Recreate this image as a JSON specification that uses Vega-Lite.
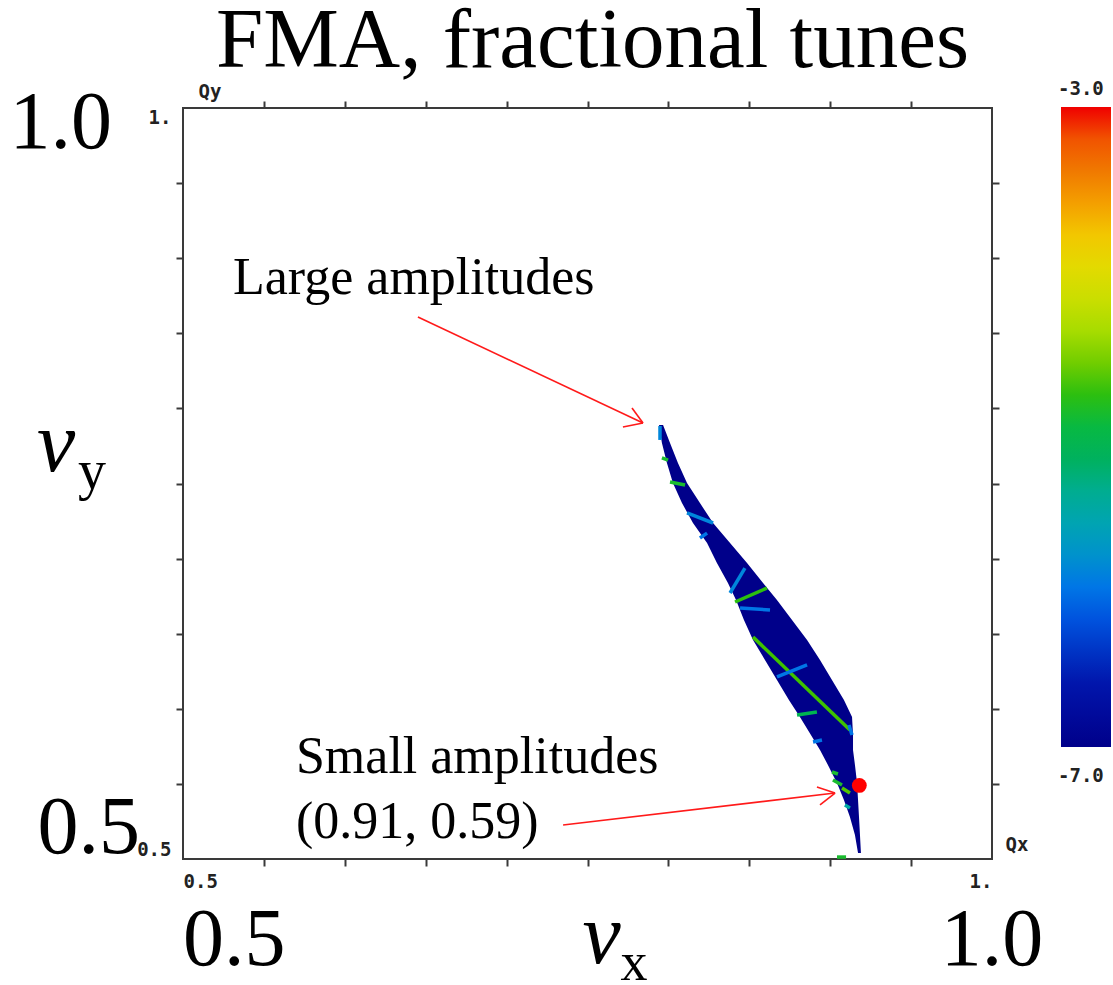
{
  "$schema": "https://vega.github.io/schema/vega-lite/v6.json",
  "width": 809,
  "height": 751,
  "autosize": {"type": "none"},
  "padding": {"left": 183, "top": 108, "right": 121, "bottom": 126},
  "background": "white",
  "config": {
    "view": {"stroke": "#3a3a3a", "strokeWidth": 2},
    "axis": {
      "grid": false,
      "domain": false,
      "tickColor": "#3a3a3a",
      "tickWidth": 2,
      "tickSize": 7,
      "labelFont": "DejaVu Sans Mono",
      "labelFontWeight": "bold",
      "labelFontSize": 19,
      "labelColor": "#222222",
      "titleFont": "DejaVu Sans Mono",
      "titleFontWeight": "bold",
      "titleFontSize": 19,
      "titleColor": "#222222"
    }
  },
  "datasets": {
    "footprint": [
      {"qy": 0.7890, "qxl": 0.7942, "qxr": 0.7967, "d": -7},
      {"qy": 0.7770, "qxl": 0.7960, "qxr": 0.8010, "d": -7},
      {"qy": 0.7637, "qxl": 0.7991, "qxr": 0.8059, "d": -7},
      {"qy": 0.7503, "qxl": 0.8028, "qxr": 0.8115, "d": -7},
      {"qy": 0.7370, "qxl": 0.8084, "qxr": 0.8195, "d": -7},
      {"qy": 0.7237, "qxl": 0.8152, "qxr": 0.8276, "d": -7},
      {"qy": 0.7104, "qxl": 0.8239, "qxr": 0.8381, "d": -7},
      {"qy": 0.6971, "qxl": 0.8300, "qxr": 0.8486, "d": -7},
      {"qy": 0.6838, "qxl": 0.8368, "qxr": 0.8585, "d": -7},
      {"qy": 0.6724, "qxl": 0.8418, "qxr": 0.8671, "d": -7},
      {"qy": 0.6591, "qxl": 0.8467, "qxr": 0.8764, "d": -7},
      {"qy": 0.6458, "qxl": 0.8523, "qxr": 0.8857, "d": -7},
      {"qy": 0.6325, "qxl": 0.8597, "qxr": 0.8937, "d": -7},
      {"qy": 0.6192, "qxl": 0.8671, "qxr": 0.9011, "d": -7},
      {"qy": 0.6059, "qxl": 0.8745, "qxr": 0.9085, "d": -7},
      {"qy": 0.5945, "qxl": 0.8813, "qxr": 0.9135, "d": -7},
      {"qy": 0.5826, "qxl": 0.8881, "qxr": 0.9141, "d": -7},
      {"qy": 0.5726, "qxl": 0.8937, "qxr": 0.9141, "d": -7},
      {"qy": 0.5626, "qxl": 0.8986, "qxr": 0.9153, "d": -7},
      {"qy": 0.5506, "qxl": 0.9042, "qxr": 0.9166, "d": -7},
      {"qy": 0.5393, "qxl": 0.9085, "qxr": 0.9172, "d": -7},
      {"qy": 0.5280, "qxl": 0.9122, "qxr": 0.9178, "d": -7},
      {"qy": 0.5160, "qxl": 0.9153, "qxr": 0.9184, "d": -7},
      {"qy": 0.5040, "qxl": 0.9172, "qxr": 0.9190, "d": -7}
    ],
    "resonances": [
      {"x1": 0.8523, "y1": 0.6478, "x2": 0.9122, "y2": 0.5859, "d": -4.75},
      {"x1": 0.8412, "y1": 0.6711, "x2": 0.8609, "y2": 0.6804, "d": -4.8},
      {"x1": 0.8381, "y1": 0.6771, "x2": 0.8473, "y2": 0.6937, "d": -5.9},
      {"x1": 0.8443, "y1": 0.6671, "x2": 0.8628, "y2": 0.6658, "d": -6.0},
      {"x1": 0.8010, "y1": 0.7510, "x2": 0.8103, "y2": 0.7490, "d": -4.9},
      {"x1": 0.7960, "y1": 0.7670, "x2": 0.7998, "y2": 0.7656, "d": -4.9},
      {"x1": 0.8115, "y1": 0.7304, "x2": 0.8276, "y2": 0.7237, "d": -5.9},
      {"x1": 0.8195, "y1": 0.7137, "x2": 0.8239, "y2": 0.7170, "d": -6.0},
      {"x1": 0.8671, "y1": 0.6212, "x2": 0.8857, "y2": 0.6292, "d": -6.0},
      {"x1": 0.8795, "y1": 0.5959, "x2": 0.8918, "y2": 0.5979, "d": -5.1},
      {"x1": 0.8894, "y1": 0.5779, "x2": 0.8949, "y2": 0.5792, "d": -6.0},
      {"x1": 0.9017, "y1": 0.5526, "x2": 0.9073, "y2": 0.5493, "d": -4.9},
      {"x1": 0.9073, "y1": 0.5473, "x2": 0.9122, "y2": 0.5439, "d": -4.7},
      {"x1": 0.9042, "y1": 0.5013, "x2": 0.9098, "y2": 0.5013, "d": -4.9},
      {"x1": 0.7948, "y1": 0.7883, "x2": 0.7948, "y2": 0.7790, "d": -5.9},
      {"x1": 0.9116, "y1": 0.5892, "x2": 0.9135, "y2": 0.5826, "d": -6.0},
      {"x1": 0.9011, "y1": 0.5579, "x2": 0.9048, "y2": 0.5566, "d": -4.9},
      {"x1": 0.9091, "y1": 0.5360, "x2": 0.9122, "y2": 0.5340, "d": -5.5}
    ],
    "dot": [{"qx": 0.918, "qy": 0.549}],
    "arrows": [
      {"x1": 0.6452, "y1": 0.8609, "x2": 0.7843, "y2": 0.7903},
      {"x1": 0.7775, "y1": 0.8003, "x2": 0.7843, "y2": 0.7903},
      {"x1": 0.7719, "y1": 0.7876, "x2": 0.7843, "y2": 0.7903},
      {"x1": 0.7349, "y1": 0.5226, "x2": 0.9030, "y2": 0.5439},
      {"x1": 0.8918, "y1": 0.5479, "x2": 0.9030, "y2": 0.5439},
      {"x1": 0.8937, "y1": 0.5360, "x2": 0.9030, "y2": 0.5439}
    ],
    "notes": [
      {"x": 0.5309, "y": 0.8762, "text": "Large amplitudes"},
      {"x": 0.5698, "y": 0.5573, "text": "Small amplitudes"},
      {"x": 0.5698, "y": 0.5140, "text": "(0.91, 0.59)"}
    ],
    "one": [{}]
  },
  "resolve": {"axis": {"x": "independent", "y": "independent"}},
  "layer": [
    {
      "data": {"name": "footprint"},
      "mark": {"type": "area", "orient": "horizontal", "interpolate": "linear"},
      "encoding": {
        "y": {
          "field": "qy", "type": "quantitative",
          "scale": {"domain": [0.5, 1.0], "nice": false, "zero": false},
          "axis": {
            "orient": "left",
            "values": [0.5, 0.55, 0.6, 0.65, 0.7, 0.75, 0.8, 0.85, 0.9, 0.95, 1.0],
            "labelExpr": "datum.value == 0.5 ? '0.5' : (datum.value == 1 ? '1.' : '')",
            "labelFlush": true,
            "labelPadding": 5,
            "tickOpacity": {"condition": {"test": "datum.value == 0.5 || datum.value == 1", "value": 0}, "value": 1},
            "title": "Qy",
            "titleAngle": 0,
            "titleX": 15,
            "titleY": -11,
            "titleAlign": "left",
            "titleBaseline": "alphabetic"
          }
        },
        "x": {
          "field": "qxl", "type": "quantitative",
          "scale": {"domain": [0.5, 1.0], "nice": false, "zero": false},
          "axis": {
            "orient": "bottom",
            "values": [0.5, 0.55, 0.6, 0.65, 0.7, 0.75, 0.8, 0.85, 0.9, 0.95, 1.0],
            "labelExpr": "datum.value == 0.5 ? '0.5' : (datum.value == 1 ? '1.' : '')",
            "labelFlush": true,
            "labelPadding": 6,
            "tickOpacity": {"condition": {"test": "datum.value == 0.5 || datum.value == 1", "value": 0}, "value": 1},
            "title": "Qx",
            "titleX": 822,
            "titleY": -9,
            "titleAlign": "left",
            "titleBaseline": "alphabetic"
          }
        },
        "x2": {"field": "qxr"},
        "fill": {
          "field": "d", "type": "quantitative",
          "scale": {
            "type": "linear",
            "domain": [-7, -3],
            "range": ["#00008a", "#0018b0", "#0060e8", "#00a0b8", "#00b060", "#30c000", "#b8e000", "#f0d800", "#f08000", "#f00000"]
          },
          "legend": {
            "type": "gradient",
            "orient": "none",
            "legendX": 878,
            "legendY": -1,
            "direction": "vertical",
            "gradientLength": 640,
            "gradientThickness": 50,
            "gradientStrokeWidth": 0,
            "labelExpr": "''",
            "labelOpacity": 0,
            "title": null
          }
        }
      }
    },
    {
      "data": {"name": "resonances"},
      "mark": {"type": "rule", "strokeWidth": 3.5, "strokeCap": "butt"},
      "encoding": {
        "x": {"field": "x1", "type": "quantitative", "axis": null},
        "y": {"field": "y1", "type": "quantitative", "axis": null},
        "x2": {"field": "x2"},
        "y2": {"field": "y2"},
        "stroke": {
          "field": "d", "type": "quantitative",
          "scale": {
            "type": "linear",
            "domain": [-7, -6.556, -6.111, -5.667, -5.222, -4.778, -4.333, -3.889, -3.444, -3],
            "range": ["#00008a", "#0018b0", "#0060e8", "#00a0b8", "#00b060", "#30c000", "#b8e000", "#f0d800", "#f08000", "#f00000"]
          },
          "legend": null
        }
      }
    },
    {
      "data": {"name": "dot"},
      "mark": {"type": "point", "filled": true, "shape": "circle", "size": 220, "opacity": 1, "color": "#ff0000"},
      "encoding": {
        "x": {
          "field": "qx", "type": "quantitative",
          "axis": {
            "orient": "top",
            "values": [0.55, 0.6, 0.65, 0.7, 0.75, 0.8, 0.85, 0.9, 0.95],
            "labels": false,
            "title": null
          }
        },
        "y": {
          "field": "qy", "type": "quantitative",
          "axis": {
            "orient": "right",
            "values": [0.55, 0.6, 0.65, 0.7, 0.75, 0.8, 0.85, 0.9, 0.95],
            "labels": false,
            "title": null
          }
        }
      }
    },
    {
      "data": {"name": "arrows"},
      "mark": {"type": "rule", "color": "#ff1a1a", "strokeWidth": 1.6},
      "encoding": {
        "x": {"field": "x1", "type": "quantitative", "axis": null},
        "y": {"field": "y1", "type": "quantitative", "axis": null},
        "x2": {"field": "x2"},
        "y2": {"field": "y2"}
      }
    },
    {
      "data": {"name": "notes"},
      "mark": {"type": "text", "font": "Liberation Serif", "fontSize": 52, "align": "left", "baseline": "alphabetic", "color": "#000000"},
      "encoding": {
        "x": {"field": "x", "type": "quantitative", "axis": null},
        "y": {"field": "y", "type": "quantitative", "axis": null},
        "text": {"field": "text"}
      }
    },
    {
      "data": {"name": "one"},
      "mark": {"type": "text", "text": "FMA, fractional tunes", "font": "Liberation Serif", "fontSize": 85, "align": "center", "baseline": "alphabetic", "dx": 5, "dy": -41, "color": "#000000"},
      "encoding": {
        "x": {"datum": 0.75, "type": "quantitative", "axis": null},
        "y": {"datum": 1.0, "type": "quantitative", "axis": null}
      }
    },
    {
      "data": {"name": "one"},
      "mark": {"type": "text", "text": "1.0", "font": "Liberation Serif", "fontSize": 82, "align": "right", "baseline": "alphabetic", "dx": -71, "dy": 40, "color": "#000000"},
      "encoding": {
        "x": {"datum": 0.5, "type": "quantitative", "axis": null},
        "y": {"datum": 1.0, "type": "quantitative", "axis": null}
      }
    },
    {
      "data": {"name": "one"},
      "mark": {"type": "text", "text": "0.5", "font": "Liberation Serif", "fontSize": 82, "align": "right", "baseline": "alphabetic", "dx": -43, "dy": -6, "color": "#000000"},
      "encoding": {
        "x": {"datum": 0.5, "type": "quantitative", "axis": null},
        "y": {"datum": 0.5, "type": "quantitative", "axis": null}
      }
    },
    {
      "data": {"name": "one"},
      "mark": {"type": "text", "text": "ν", "font": "Liberation Serif", "fontSize": 86, "fontStyle": "italic", "align": "left", "baseline": "alphabetic", "dx": -146, "dy": -13, "color": "#000000"},
      "encoding": {
        "x": {"datum": 0.5, "type": "quantitative", "axis": null},
        "y": {"datum": 0.75, "type": "quantitative", "axis": null}
      }
    },
    {
      "data": {"name": "one"},
      "mark": {"type": "text", "text": "y", "font": "Liberation Serif", "fontSize": 56, "align": "left", "baseline": "alphabetic", "dx": -105, "dy": 5, "color": "#000000"},
      "encoding": {
        "x": {"datum": 0.5, "type": "quantitative", "axis": null},
        "y": {"datum": 0.75, "type": "quantitative", "axis": null}
      }
    },
    {
      "data": {"name": "one"},
      "mark": {"type": "text", "text": "0.5", "font": "Liberation Serif", "fontSize": 82, "align": "left", "baseline": "alphabetic", "dx": 0, "dy": 106, "color": "#000000"},
      "encoding": {
        "x": {"datum": 0.5, "type": "quantitative", "axis": null},
        "y": {"datum": 0.5, "type": "quantitative", "axis": null}
      }
    },
    {
      "data": {"name": "one"},
      "mark": {"type": "text", "text": "1.0", "font": "Liberation Serif", "fontSize": 82, "align": "center", "baseline": "alphabetic", "dx": 0, "dy": 106, "color": "#000000"},
      "encoding": {
        "x": {"datum": 1.0, "type": "quantitative", "axis": null},
        "y": {"datum": 0.5, "type": "quantitative", "axis": null}
      }
    },
    {
      "data": {"name": "one"},
      "mark": {"type": "text", "text": "ν", "font": "Liberation Serif", "fontSize": 86, "fontStyle": "italic", "align": "left", "baseline": "alphabetic", "dx": -5, "dy": 104, "color": "#000000"},
      "encoding": {
        "x": {"datum": 0.75, "type": "quantitative", "axis": null},
        "y": {"datum": 0.5, "type": "quantitative", "axis": null}
      }
    },
    {
      "data": {"name": "one"},
      "mark": {"type": "text", "text": "x", "font": "Liberation Serif", "fontSize": 54, "align": "left", "baseline": "alphabetic", "dx": 33, "dy": 121, "color": "#000000"},
      "encoding": {
        "x": {"datum": 0.75, "type": "quantitative", "axis": null},
        "y": {"datum": 0.5, "type": "quantitative", "axis": null}
      }
    },
    {
      "data": {"name": "one"},
      "mark": {"type": "text", "text": "-3.0", "font": "DejaVu Sans Mono", "fontWeight": "bold", "fontSize": 19, "align": "left", "baseline": "alphabetic", "dx": 66, "dy": -13, "color": "#222222"},
      "encoding": {
        "x": {"datum": 1.0, "type": "quantitative", "axis": null},
        "y": {"datum": 1.0, "type": "quantitative", "axis": null}
      }
    },
    {
      "data": {"name": "one"},
      "mark": {"type": "text", "text": "-7.0", "font": "DejaVu Sans Mono", "fontWeight": "bold", "fontSize": 19, "align": "left", "baseline": "alphabetic", "dx": 66, "dy": -77, "color": "#222222"},
      "encoding": {
        "x": {"datum": 1.0, "type": "quantitative", "axis": null},
        "y": {"datum": 0.5, "type": "quantitative", "axis": null}
      }
    }
  ]
}
